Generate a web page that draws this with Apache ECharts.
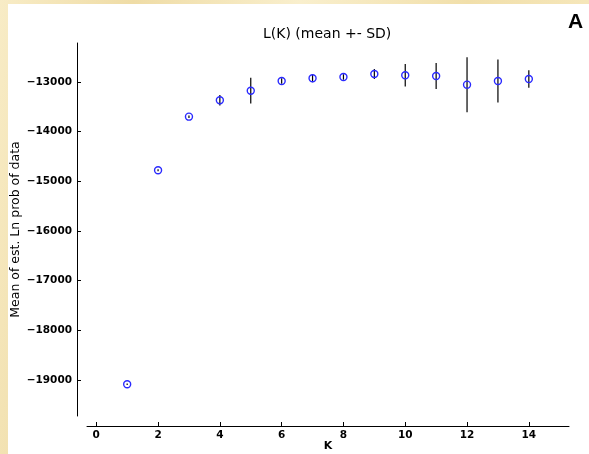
<!DOCTYPE html>
<html>
<head>
<meta charset="utf-8">
<script src="https://cdn.jsdelivr.net/npm/echarts@6/dist/echarts.min.js"></script>
<style>
html,body{margin:0;padding:0;width:589px;height:454px;overflow:hidden;}
body{background:#f6e7bd;background-image:linear-gradient(100deg,#f8ecc6 0%,#efdca6 20%,#f9efcd 45%,#f1dfaa 70%,#f8ebc4 100%);}
#panel{position:absolute;left:8px;top:4px;right:0;bottom:0;background:#fff;}
#chart{position:absolute;left:0;top:0;width:589px;height:454px;}
</style>
</head>
<body>
<div id="panel"></div>
<div id="chart"></div>
<script>
// Data
const kValues = [1,2,3,4,5,6,7,8,9,10,11,12,13,14];
const meanL = [-19086,-14778,-13698,-13368,-13175,-12980,-12925,-12899,-12839,-12865,-12879,-13054,-12980,-12940];
const sdL = [15,20,25,107,258,54,80,55,100,225,262,554,435,175];
const xTicks = [0,2,4,6,8,10,12,14];
const yTicks = [-19000,-18000,-17000,-16000,-15000,-14000,-13000];

const chart = echarts.init(document.getElementById('chart'), null, {renderer:'canvas'});
const pts = kValues.map((k,i)=>[k, meanL[i]]);
const bars = kValues.map((k,i)=>[k, meanL[i]-sdL[i], meanL[i]+sdL[i]]);
const font = 'DejaVu Sans';
chart.setOption({
  backgroundColor:'transparent',
  animation:false,
  title:[
    {text:'L(K) (mean +- SD)', left:258, top:22,
     textStyle:{fontFamily:font, fontSize:14, fontWeight:'normal', color:'#000'}},
    {text:'A', left:563, top:7,
     textStyle:{fontFamily:'Liberation Sans', fontSize:21, fontWeight:'bold', color:'#000'}}
  ],
  grid:{left:87, right:20, top:43, bottom:38, outerBoundsMode:'none', containLabel:false},
  xAxis:{
    type:'value', min:-0.3, max:15.3, offset:10,
    name:'K', nameLocation:'middle', nameGap:15, nameMoveOverlap:false,
    nameTextStyle:{fontFamily:font, fontSize:11, fontWeight:'bold', color:'#000'},
    splitLine:{show:false},
    axisLine:{onZero:false, lineStyle:{color:'#000', width:1}},
    axisTick:{inside:true, length:4, lineStyle:{color:'#000'}, customValues:xTicks},
    axisLabel:{fontFamily:font, fontSize:10.5, fontWeight:'bold', color:'#000', margin:4, customValues:xTicks}
  },
  yAxis:{
    type:'value', min:-19725, max:-12215, offset:10,
    name:'Mean of est. Ln prob of data', nameLocation:'middle', nameGap:55, nameMoveOverlap:false,
    nameTextStyle:{fontFamily:font, fontSize:12.5, color:'#000'},
    splitLine:{show:false},
    axisLine:{onZero:false, lineStyle:{color:'#000', width:1}},
    axisTick:{inside:true, length:4, lineStyle:{color:'#000'}, customValues:yTicks},
    axisLabel:{fontFamily:font, fontSize:10.5, fontWeight:'bold', color:'#000', margin:5, customValues:yTicks,
      formatter:v=>String(v).replace('-','\u2212')}
  },
  series:[
    {
      type:'custom',
      data:bars,
      z:2,
      renderItem:function(params, api){
        const lo = api.coord([api.value(0), api.value(1)]);
        const hi = api.coord([api.value(0), api.value(2)]);
        return {type:'line', shape:{x1:lo[0], y1:lo[1], x2:hi[0], y2:hi[1]},
          style:{stroke:'#000', lineWidth:1.2}};
      }
    },
    {
      type:'scatter',
      data:pts,
      z:3,
      symbol:'circle',
      symbolSize:7,
      itemStyle:{color:'rgba(0,0,0,0)', borderColor:'#2a2aff', borderWidth:1.4, opacity:1}
    }
  ]
});
</script>
</body>
</html>
